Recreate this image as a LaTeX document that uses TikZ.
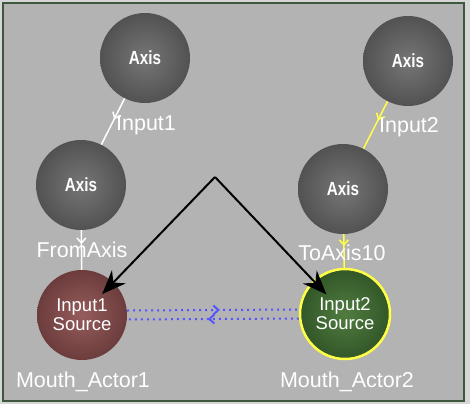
\documentclass[tikz,border=0pt]{standalone}
\usepackage{fontspec}
\setmainfont{Liberation Sans}
\usepackage{xcolor}
\usepackage{tikz}
\usetikzlibrary{arrows.meta,decorations.markings}

\definecolor{panelgray}{RGB}{179,179,179}
\definecolor{outergray}{RGB}{214,214,214}
\definecolor{framegreen}{RGB}{62,88,62}
\definecolor{axisgray}{RGB}{118,118,118}
\definecolor{axisrim}{RGB}{82,82,82}
\definecolor{srcred}{RGB}{150,92,92}
\definecolor{srcredrim}{RGB}{108,60,60}
\definecolor{srcgreen}{RGB}{80,125,64}
\definecolor{srcgreenrim}{RGB}{50,86,40}
\definecolor{linkblue}{RGB}{85,85,255}
\definecolor{linkyellow}{RGB}{255,255,70}

\newcommand{\cond}[1]{\scalebox{0.8}[1]{#1}}

\tikzset{
  ball/.style={circle, shading=radial, minimum size=90pt, inner sep=0pt, text=white},
  axisball/.style={ball, inner color=axisgray, outer color=axisrim, font=\bfseries\fontsize{19}{19}\selectfont},
  srcball/.style={ball, align=center, font=\fontsize{18.5}{19}\selectfont},
  lbl/.style={text=white, font=\fontsize{21.5}{21.5}\selectfont, inner sep=0pt},
  midarrow/.style={postaction={decorate},
    decoration={markings, mark=at position #1 with {\arrow{Straight Barb[length=5pt,width=9pt]}}}}
}

\begin{document}
\begin{tikzpicture}[x=1pt, y=-1pt]
\useasboundingbox (0,0) rectangle (470,404);
\fill[outergray] (0,0) rectangle (470,404);
\draw[fill=panelgray, draw=framegreen, line width=2pt] (3,3) rectangle (464,401);

% axis spheres
\node[axisball] (ax1) at (145,58) {\cond{Axis}};
\node[axisball] (ax2) at (81,185) {\cond{Axis}};
\node[axisball] (ax3) at (408,61) {\cond{Axis}};
\node[axisball] (ax4) at (343,189) {\cond{Axis}};

% sources
\node[srcball, inner color=srcred, outer color=srcredrim] (src1) at (82,315) {Input1\\Source};
\node[srcball, inner color=srcgreen, outer color=srcgreenrim, draw=linkyellow, line width=2.5pt] (src2) at (345,314) {Input2\\Source};

% links
\draw[white, line width=1.5pt, midarrow=0.45] (ax1) -- (ax2);
\draw[linkyellow, line width=1.5pt, midarrow=0.4] (ax3) -- (ax4);
\draw[white, line width=1.5pt, midarrow=0.35] (ax2) -- (src1);
\draw[linkyellow, line width=1.5pt, midarrow=0.35] (ax4) -- (src2);

\draw[linkblue, line width=2pt, dash pattern=on 2pt off 4pt, midarrow=0.54] ([yshift=4.5pt]src1.east) -- ([yshift=4.5pt]src2.west);
\draw[linkblue, line width=2pt, dash pattern=on 2pt off 4pt, midarrow=0.53] ([yshift=-4.5pt]src2.west) -- ([yshift=-4.5pt]src1.east);

% labels
\node[lbl] (in1) at (146,125) {Input1};
\node[lbl] (in2) at (409,127) {Input2};
\node[lbl] (fromax) at (82,250) {FromAxis};
\node[lbl] (toax) at (342,253) {ToAxis10};
\node[lbl] (ma1) at (83,382) {Mouth\_Actor1};
\node[lbl] (ma2) at (347,382) {Mouth\_Actor2};

% black arrows
\coordinate (apex) at (215,177);
\draw[black, line width=2pt, -{Stealth[length=24pt,width=19pt]}, shorten >=29pt] (apex) -- (src1.center);
\draw[black, line width=2pt, -{Stealth[length=24pt,width=19pt]}, shorten >=27pt] (apex) -- (src2.center);
\end{tikzpicture}
\end{document}
